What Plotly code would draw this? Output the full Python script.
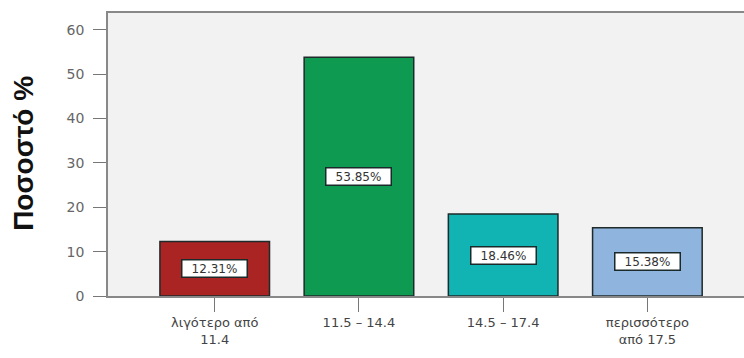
import plotly.graph_objects as go

categories = ["λιγότερο από<br>11.4", "11.5 – 14.4", "14.5 – 17.4", "περισσότερο<br>από 17.5"]
values = [12.31, 53.85, 18.46, 15.38]
labels = ["12.31%", "53.85%", "18.46%", "15.38%"]
colors = ["#ab2424", "#0f9a52", "#11b3b3", "#8fb5df"]
y_ticks = [0, 10, 20, 30, 40, 50, 60]

fig = go.Figure()
fig.add_trace(go.Bar(
    x=list(range(len(categories))), y=values,
    marker=dict(color=colors, line=dict(color="#1f2a2a", width=1.5)),
    width=0.76, showlegend=False, hoverinfo="skip",
))

for i, (v, t) in enumerate(zip(values, labels)):
    fig.add_annotation(x=i, y=v / 2, text=t, showarrow=False,
                       font=dict(family="DejaVu Sans", size=12, color="#333"),
                       width=62, height=14, align="center",
                       bgcolor="white", bordercolor="#1a2a2a", borderwidth=1.5, borderpad=1)

fig.add_annotation(xref="paper", yref="paper", x=-0.134, y=0.505,
                   text="<b>Ποσοστό %</b>", textangle=-90, showarrow=False,
                   xanchor="center", yanchor="middle",
                   font=dict(family="Liberation Sans, Arial", size=28, color="#111"))

fig.update_layout(
    width=744, height=358,
    margin=dict(l=108, r=0, t=13, b=62),
    paper_bgcolor="white", plot_bgcolor="#f2f2f2",
    font=dict(family="DejaVu Sans", color="#555"),
)
fig.update_xaxes(
    range=[-0.74, 3.67], tickmode="array", tickvals=list(range(len(categories))),
    ticktext=categories, ticks="outside", ticklen=14, tickcolor="#777", tickwidth=1,
    showline=True, linecolor="#888", linewidth=1.5, mirror=True, showgrid=False,
    tickfont=dict(family="DejaVu Sans", size=13, color="#444"),
)
fig.update_yaxes(
    range=[0, 63.8], tickvals=y_ticks, ticks="outside", ticklen=13, tickcolor="#777",
    showline=True, linecolor="#888", linewidth=1.5, showgrid=False, zeroline=False,
    ticklabelstandoff=6,
    tickfont=dict(family="DejaVu Sans", size=14, color="#666"),
)

fig.write_html("out.html")
